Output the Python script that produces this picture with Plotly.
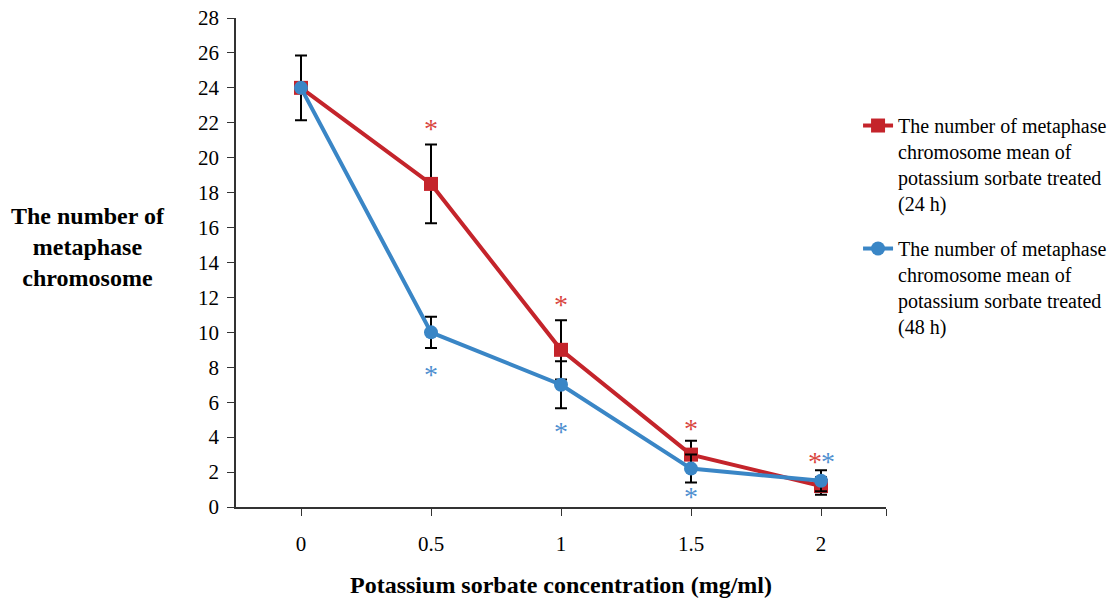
import plotly.graph_objects as go

conc = [0, 0.5, 1, 1.5, 2]
tick_labels = ["0", "0.5", "1", "1.5", "2"]
mean_24h = [24, 18.5, 9.0, 3.0, 1.2]
err_24h = [1.85, 2.25, 1.7, 0.8, 0.5]
mean_48h = [24, 10.0, 7.0, 2.2, 1.5]
err_48h = [0.0, 0.9, 1.35, 0.8, 0.6]
y_ticks = list(range(0, 29, 2))

# significance marks
star_x_24 = [0.5, 1, 1.5, 2]
star_y_24 = [21.7, 11.6, 4.5, 2.6]
star_x_48 = [0.5, 1, 1.5, 2]
star_y_48 = [7.6, 4.35, 0.6, 2.6]

RED = "#C4242B"
BLUE = "#3A86C6"
FONT = "Liberation Serif, Times New Roman, serif"

fig = go.Figure()
fig.add_trace(go.Scatter(
    x=conc, y=mean_24h, mode="lines+markers", legendgroup="g24",
    name="The number of metaphase<br>chromosome mean of<br>potassium sorbate treated<br>(24 h)",
    line=dict(color=RED, width=4),
    marker=dict(symbol="square", size=14, color=RED),
    error_y=dict(type="data", array=err_24h, color="black", thickness=2, width=6),
))
fig.add_trace(go.Scatter(
    x=conc, y=mean_48h, mode="lines+markers", legendgroup="g48",
    name="The number of metaphase<br>chromosome mean of<br>potassium sorbate treated<br>(48 h)",
    line=dict(color=BLUE, width=4),
    marker=dict(symbol="circle", size=14, color=BLUE),
    error_y=dict(type="data", array=err_48h, color="black", thickness=2, width=6),
))

for sx, sy in zip(star_x_24, star_y_24):
    fig.add_annotation(x=sx, y=sy, text="*", showarrow=False,
                       font=dict(family=FONT, size=28, color="#D9473F"),
                       xshift=-6 if sx == 2 else 0)
for sx, sy in zip(star_x_48, star_y_48):
    fig.add_annotation(x=sx, y=sy, text="*", showarrow=False,
                       font=dict(family=FONT, size=28, color="#4F8FD0"),
                       xshift=7 if sx == 2 else 0)

fig.add_annotation(xref="paper", yref="paper", x=-0.228, y=0.532,
                   text="<b>The number of<br>metaphase<br>chromosome</b>",
                   showarrow=False, align="center", xanchor="center", yanchor="middle",
                   font=dict(family=FONT, size=24, color="black"))

fig.update_layout(
    width=1109, height=603,
    margin=dict(l=236, r=223, t=18, b=96, autoexpand=False),
    paper_bgcolor="white", plot_bgcolor="white",
    font=dict(family=FONT, size=21, color="black"),
    showlegend=True,
    legend=dict(x=0.957, y=0.82, xanchor="left", yanchor="top", valign="top",
                traceorder="grouped",
                font=dict(family=FONT, size=20, color="black"),
                tracegroupgap=16, bgcolor="rgba(0,0,0,0)"),
    xaxis=dict(range=[-0.25, 2.25], tickvals=conc + [2.25], ticktext=tick_labels + [""],
               showline=True, linecolor="#333", linewidth=1.5, ticks="outside",
               ticklen=7, tickcolor="#333", showgrid=False, zeroline=False,
               tickfont=dict(family=FONT, size=21), ticklabelstandoff=10,
               title=dict(text="<b>Potassium sorbate concentration (mg/ml)</b>",
                          font=dict(family=FONT, size=24), standoff=21)),
    yaxis=dict(range=[0, 28], tickvals=y_ticks, showline=True, linecolor="#333",
               linewidth=1.5, ticks="outside", ticklen=7, tickcolor="#333",
               showgrid=False, zeroline=False, tickfont=dict(family=FONT, size=21),
               ticklabelstandoff=4),
)

fig.write_html("out.html")
